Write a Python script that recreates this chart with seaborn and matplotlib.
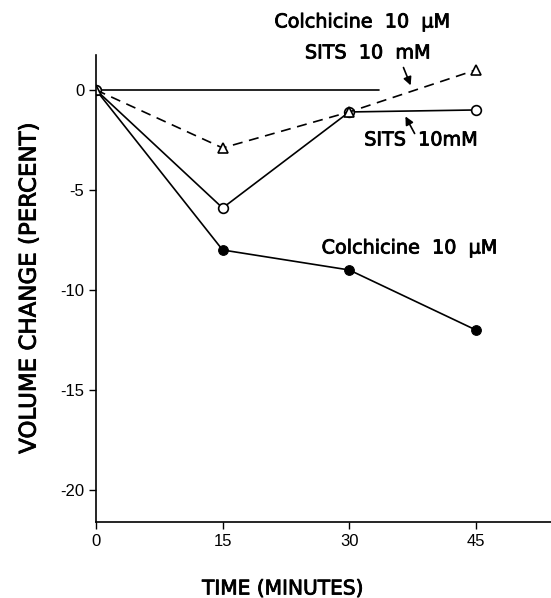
import numpy as np
import pandas as pd
import seaborn as sns
import matplotlib.pyplot as plt
import matplotlib.patheffects as pe

# values
time = [0, 15, 30, 45]
colchicine = [0, -8.0, -9.0, -12.0]
sits = [0, -5.9, -1.1, -1.0]
colch_sits = [0, -2.9, -1.1, 1.0]
control_time = [0, 33.5]
control = [0, 0]

x_ticks = [0, 15, 30, 45]
y_ticks = [0, -5, -10, -15, -20]

d = pd.concat(
    [
        pd.DataFrame({"time": time, "vol": colchicine, "group": "colchicine"}),
        pd.DataFrame({"time": time, "vol": sits, "group": "sits"}),
        pd.DataFrame({"time": time, "vol": colch_sits, "group": "colch_sits"}),
        pd.DataFrame({"time": control_time, "vol": control, "group": "control"}),
    ]
)

sns.set_style("ticks")
plt.rcParams["font.family"] = ["Liberation Sans Narrow", "Liberation Sans", "DejaVu Sans"]

fig = plt.figure(figsize=(5.51, 5.98), dpi=100)
ax = fig.add_axes([0.1742, 0.1271, 0.8258, 0.781])

sns.lineplot(
    data=d[d["group"] == "control"], x="time", y="vol",
    color="black", lw=1.2, ax=ax,
)
sns.lineplot(
    data=d[d["group"] == "colchicine"], x="time", y="vol",
    color="black", lw=1.2, marker="o", ms=7, mfc="black", mec="black", ax=ax,
)
sns.lineplot(
    data=d[d["group"] == "sits"], x="time", y="vol",
    color="black", lw=1.2, marker="o", ms=7, mfc="white", mec="black",
    mew=1.2, ax=ax,
)
sns.lineplot(
    data=d[d["group"] == "colch_sits"], x="time", y="vol",
    color="black", lw=1.2, ls=(0, (6, 4)), marker="^", ms=7, mfc="white",
    mec="black", mew=1.2, ax=ax,
)

ax.set_xlim(0, 53.9)
ax.set_ylim(-21.6, 1.75)
ax.set_xticks(x_ticks)
ax.set_yticks(y_ticks)
ax.set_xticklabels([str(v) for v in x_ticks], fontsize=12)
ax.set_yticklabels([str(v) for v in y_ticks], fontsize=12)
ax.tick_params(length=5, width=1, colors="black")
for s in ["left", "bottom"]:
    ax.spines[s].set_linewidth(1.2)
    ax.spines[s].set_color("black")
sns.despine(ax=ax)

thick = [pe.withStroke(linewidth=0.6, foreground="black")]
lab = dict(family="DejaVu Sans", color="black", path_effects=thick)
ax.set_xlabel("TIME (MINUTES)", fontsize=14.5, **lab)
ax.set_ylabel("VOLUME CHANGE (PERCENT)", labelpad=14, fontsize=16.5, **lab)
ax.xaxis.set_label_coords(0.411, -0.123)

tkw = dict(fontsize=13.8, color="black", family="DejaVu Sans", path_effects=thick)
ax.text(31.5, 3.4, "Colchicine  10  \u03bcM", ha="center", va="center", **tkw)
ax.text(32.2, 1.85, "SITS  10  mM", ha="center", va="center", **tkw)
ax.annotate(
    "", xy=(37.4, 0.1), xytext=(36.3, 1.25),
    arrowprops=dict(arrowstyle="-|>", color="black", lw=1.2, mutation_scale=12),
)
ax.text(38.5, -2.5, "SITS  10mM", ha="center", va="center", **tkw)
ax.annotate(
    "", xy=(36.5, -1.2), xytext=(37.9, -2.3),
    arrowprops=dict(arrowstyle="-|>", color="black", lw=1.2, mutation_scale=12),
)
ax.text(37.1, -7.9, "Colchicine  10  \u03bcM", ha="center", va="center", **tkw)

fig.savefig("out.png", dpi=100)
